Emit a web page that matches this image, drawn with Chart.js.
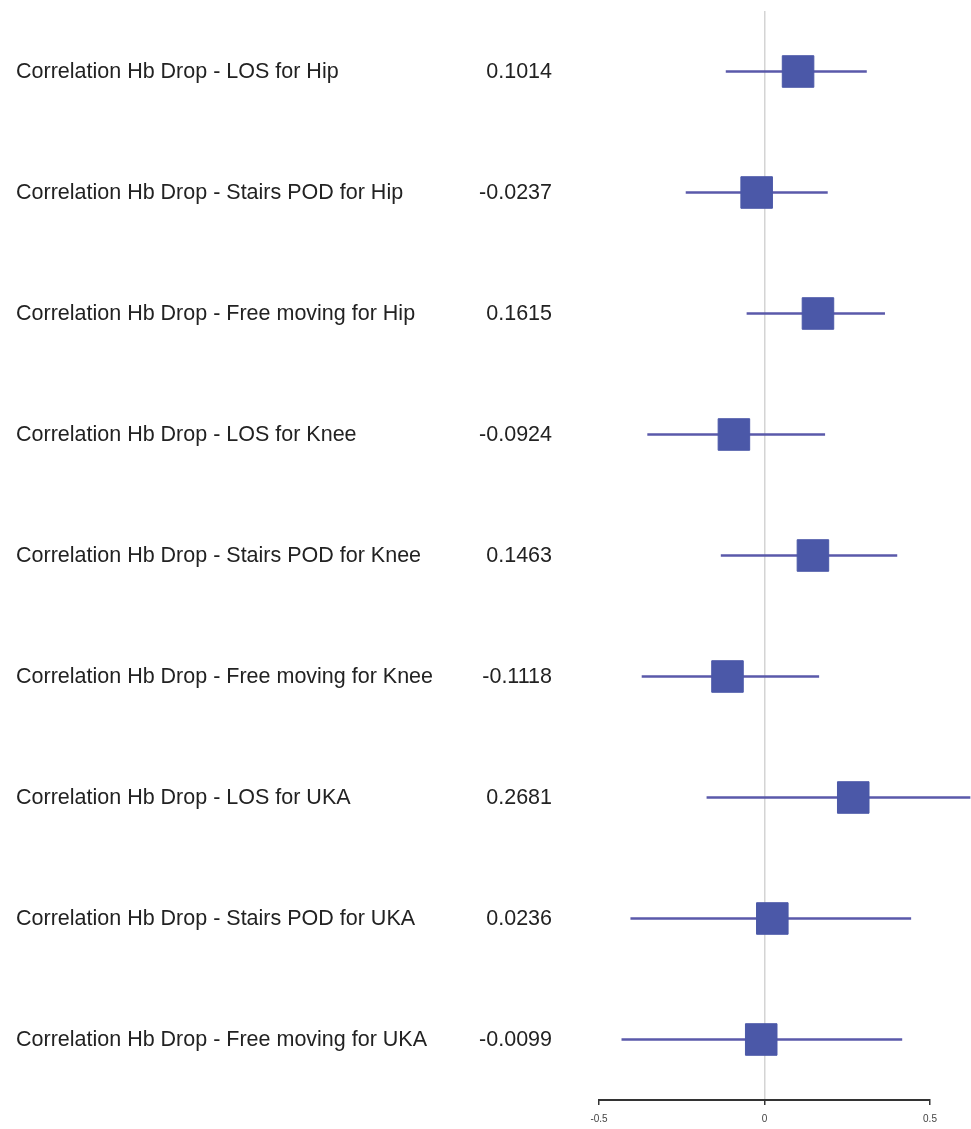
<!DOCTYPE html>
<html>
<head>
<meta charset="utf-8">
<script src="https://cdn.jsdelivr.net/npm/chart.js@4.4.1/dist/chart.umd.min.js"></script>
<style>
  html, body { margin: 0; padding: 0; background: #fff; }
  #wrap { width: 971px; height: 1129px; position: relative; }
</style>
</head>
<body>
<div id="wrap"><canvas id="forest"></canvas></div>
<script>
// Forest plot data
const labels = [
  'Correlation Hb Drop - LOS for Hip',
  'Correlation Hb Drop - Stairs POD for Hip',
  'Correlation Hb Drop - Free moving for Hip',
  'Correlation Hb Drop - LOS for Knee',
  'Correlation Hb Drop - Stairs POD for Knee',
  'Correlation Hb Drop - Free moving for Knee',
  'Correlation Hb Drop - LOS for UKA',
  'Correlation Hb Drop - Stairs POD for UKA',
  'Correlation Hb Drop - Free moving for UKA'
];
const estimates = [0.1014, -0.0237, 0.1615, -0.0924, 0.1463, -0.1118, 0.2681, 0.0236, -0.0099];
const lower = [-0.116, -0.237, -0.053, -0.353, -0.131, -0.370, -0.174, -0.404, -0.431];
const upper = [0.308, 0.190, 0.363, 0.182, 0.400, 0.164, 0.621, 0.442, 0.415];
const xTicks = [-0.5, 0, 0.5];

const textFont = '21.5px "Liberation Sans", Arial, Helvetica, sans-serif';

// left-hand text columns: label and estimate for every row
const textColumns = {
  id: 'textColumns',
  afterDraw(chart) {
    const ctx = chart.ctx;
    const y = chart.scales.y;
    ctx.save();
    ctx.font = textFont;
    ctx.fillStyle = '#222';
    ctx.textBaseline = 'middle';
    labels.forEach((lab, i) => {
      const py = y.getPixelForValue(i) + 1;
      ctx.textAlign = 'left';
      ctx.fillText(lab, 16, py);
      ctx.textAlign = 'right';
      ctx.fillText(estimates[i].toFixed(4), 552, py);
    });
    ctx.restore();
  }
};

const ctx = document.getElementById('forest').getContext('2d');
new Chart(ctx, {
  data: {
    labels: labels,
    datasets: [
      {
        type: 'scatter',
        label: 'Estimate',
        data: estimates.map((v, i) => ({ x: v, y: labels[i] })),
        pointStyle: 'rect',
        pointRadius: 22.3,
        pointHoverRadius: 22.3,
        backgroundColor: '#4b58a8',
        borderColor: '#4b58a8',
        borderWidth: 1,
        clip: false,
        order: 0
      },
      {
        type: 'bar',
        label: 'CI',
        data: lower.map((lo, i) => [lo, upper[i]]),
        backgroundColor: '#5a59aa',
        barThickness: 2,
        borderSkipped: false,
        clip: false,
        order: 1
      }
    ]
  },
  options: {
    indexAxis: 'y',
    responsive: true,
    maintainAspectRatio: false,
    animation: false,
    layout: { autoPadding: false, padding: { left: 599, right: 41, top: 11, bottom: -4 } },
    plugins: {
      legend: { display: false },
      tooltip: { enabled: false }
    },
    scales: {
      x: {
        type: 'linear',
        min: -0.5,
        max: 0.5,
        afterBuildTicks: axis => { axis.ticks = xTicks.map(v => ({ value: v })); },
        grid: {
          color: c => (c.tick && c.tick.value === 0) ? '#d4d4d4' : 'rgba(0,0,0,0)',
          lineWidth: 1.5,
          tickColor: '#333',
          tickLength: 5,
          drawTicks: true
        },
        border: { display: true, color: '#333', width: 2 },
        ticks: {
          autoSkip: false,
          maxRotation: 0,
          padding: 8,
          color: '#444',
          font: { family: '"Liberation Sans", Arial, sans-serif', size: 10 },
          callback: v => String(v)
        }
      },
      y: {
        type: 'category',
        offset: true,
        display: false,
        grid: { display: false }
      }
    }
  },
  plugins: [textColumns]
});
</script>
</body>
</html>
